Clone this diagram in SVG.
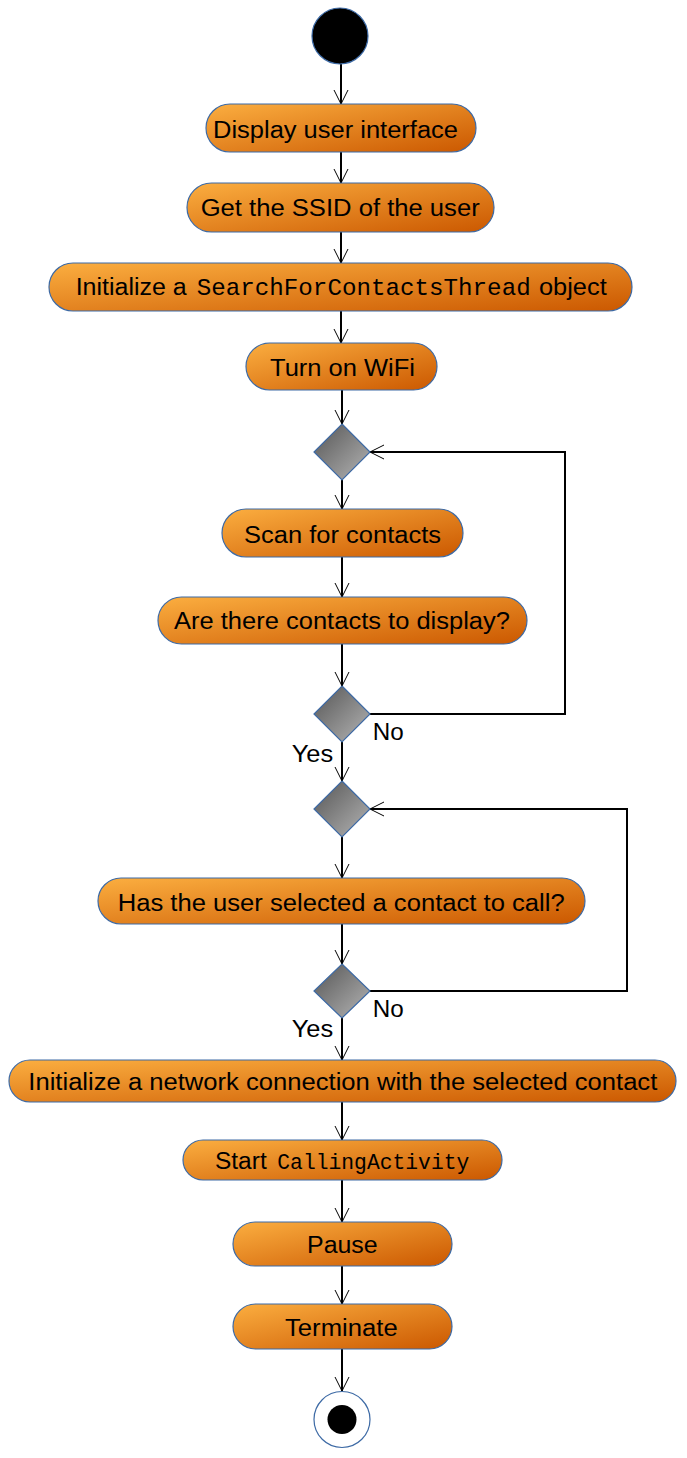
<svg xmlns="http://www.w3.org/2000/svg" width="687" height="1458" viewBox="0 0 687 1458">
<defs>
<linearGradient id="og" x1="0" y1="0" x2="1" y2="1">
<stop offset="0" stop-color="#fbae40"/>
<stop offset="1" stop-color="#cb5800"/>
</linearGradient>
<linearGradient id="gg" x1="0" y1="0" x2="1" y2="1">
<stop offset="0" stop-color="#555555"/>
<stop offset="1" stop-color="#b5b5b5"/>
</linearGradient>
<marker id="ah" markerUnits="userSpaceOnUse" markerWidth="30" markerHeight="30" refX="0" refY="0" orient="auto" overflow="visible">
<path d="M-14,-7 L0,0 L-14,7" fill="none" stroke="#000" stroke-width="1"/>
</marker>
<style>
.act{fill:url(#og);stroke:#3d6aa5;stroke-width:1.2}
.dec{fill:url(#gg);stroke:#3d6aa5;stroke-width:1.2}
.t{font-family:"Liberation Sans",Arial,sans-serif;font-size:23.5px;fill:#000}
.m{font-family:"Liberation Mono","Courier New",monospace;font-size:24px;fill:#000}
.lbl{font-family:"Liberation Sans",Arial,sans-serif;font-size:24px;fill:#000}
.c{fill:none;stroke:#000;stroke-width:2;marker-end:url(#ah)}
</style>
</defs>
<g id="connectors">
<line class="c" x1="341" y1="64" x2="341" y2="104"/>
<line class="c" x1="341" y1="152" x2="341" y2="183"/>
<line class="c" x1="341" y1="232" x2="341" y2="263"/>
<line class="c" x1="341" y1="311" x2="341" y2="343"/>
<line class="c" x1="342" y1="390" x2="342" y2="424"/>
<line class="c" x1="342" y1="480" x2="342" y2="509"/>
<line class="c" x1="342" y1="557" x2="342" y2="597"/>
<line class="c" x1="342" y1="644" x2="342" y2="686"/>
<polyline class="c" points="370,714 565,714 565,452 370,452"/>
<line class="c" x1="342" y1="742" x2="342" y2="781"/>
<line class="c" x1="342" y1="836" x2="342" y2="878"/>
<line class="c" x1="342" y1="924" x2="342" y2="964"/>
<polyline class="c" points="370,991 627,991 627,809 370,809"/>
<line class="c" x1="342" y1="1018" x2="342" y2="1060"/>
<line class="c" x1="342" y1="1102" x2="342" y2="1140"/>
<line class="c" x1="342" y1="1180" x2="342" y2="1222"/>
<line class="c" x1="342" y1="1266" x2="342" y2="1304"/>
<line class="c" x1="342" y1="1349" x2="342" y2="1391"/>
<text class="lbl" x="372.7" y="740" textLength="31" lengthAdjust="spacingAndGlyphs">No</text>
<text class="lbl" x="291.7" y="762" textLength="41.5" lengthAdjust="spacingAndGlyphs">Yes</text>
<text class="lbl" x="372.7" y="1016.7" textLength="31" lengthAdjust="spacingAndGlyphs">No</text>
<text class="lbl" x="291.7" y="1036.7" textLength="41.5" lengthAdjust="spacingAndGlyphs">Yes</text>
</g>
<g id="start"><circle cx="340" cy="36" r="28" fill="#000" stroke="#3d6aa5" stroke-width="1.2"/></g>
<g id="display-ui">
<rect class="act" x="206" y="104" width="270" height="48" rx="24"/>
<text class="t" x="213" y="138" textLength="245" lengthAdjust="spacingAndGlyphs">Display user interface</text>
</g>
<g id="get-ssid">
<rect class="act" x="187" y="183" width="307" height="49" rx="24.5"/>
<text class="t" x="200.7" y="216" textLength="279" lengthAdjust="spacingAndGlyphs">Get the SSID of the user</text>
</g>
<g id="init-thread">
<rect class="act" x="49" y="263" width="583" height="48" rx="24"/>
<text class="t" x="75.7" y="295" textLength="111" lengthAdjust="spacingAndGlyphs">Initialize a</text>
<text class="m" x="196.7" y="295" textLength="334" lengthAdjust="spacingAndGlyphs">SearchForContactsThread</text>
<text class="t" x="539" y="295" textLength="67.7" lengthAdjust="spacingAndGlyphs">object</text>
</g>
<g id="wifi">
<rect class="act" x="246" y="343" width="191" height="47" rx="23.5"/>
<text class="t" x="270" y="376" textLength="145" lengthAdjust="spacingAndGlyphs">Turn on WiFi</text>
</g>
<g id="merge1"><polygon class="dec" points="342,424 370,452 342,480 314,452"/></g>
<g id="scan">
<rect class="act" x="222" y="509" width="241" height="48" rx="24"/>
<text class="t" x="244" y="543" textLength="197" lengthAdjust="spacingAndGlyphs">Scan for contacts</text>
</g>
<g id="are-contacts">
<rect class="act" x="158" y="597" width="369" height="47" rx="23.5"/>
<text class="t" x="174" y="629.3" textLength="336" lengthAdjust="spacingAndGlyphs">Are there contacts to display?</text>
</g>
<g id="decision1"><polygon class="dec" points="342,686 370,714 342,742 314,714"/></g>
<g id="merge2"><polygon class="dec" points="342,781 370,809 342,837 314,809"/></g>
<g id="has-selected">
<rect class="act" x="98" y="878" width="487" height="46" rx="23"/>
<text class="t" x="117.7" y="910.7" textLength="447" lengthAdjust="spacingAndGlyphs">Has the user selected a contact to call?</text>
</g>
<g id="decision2"><polygon class="dec" points="342,964 370,991 342,1018 314,991"/></g>
<g id="init-network">
<rect class="act" x="9" y="1060" width="667" height="42" rx="21"/>
<text class="t" x="28.3" y="1090" textLength="629" lengthAdjust="spacingAndGlyphs">Initialize a network connection with the selected contact</text>
</g>
<g id="start-calling">
<rect class="act" x="183" y="1140" width="319" height="40" rx="20"/>
<text class="t" x="215" y="1169" textLength="51.7" lengthAdjust="spacingAndGlyphs">Start</text>
<text class="m" x="277.3" y="1169" textLength="192" lengthAdjust="spacingAndGlyphs" style="font-size:21.5px">CallingActivity</text>
</g>
<g id="pause">
<rect class="act" x="233" y="1222" width="219" height="44" rx="22"/>
<text class="t" x="307" y="1253" textLength="70.7" lengthAdjust="spacingAndGlyphs">Pause</text>
</g>
<g id="terminate">
<rect class="act" x="233" y="1304" width="219" height="45" rx="22.5"/>
<text class="t" x="285" y="1336" textLength="112.7" lengthAdjust="spacingAndGlyphs">Terminate</text>
</g>
<g id="end">
<circle cx="342" cy="1419.5" r="28" fill="#fff" stroke="#3d6aa5" stroke-width="1.2"/>
<circle cx="342" cy="1419.5" r="14.5" fill="#000"/>
</g>
</svg>
